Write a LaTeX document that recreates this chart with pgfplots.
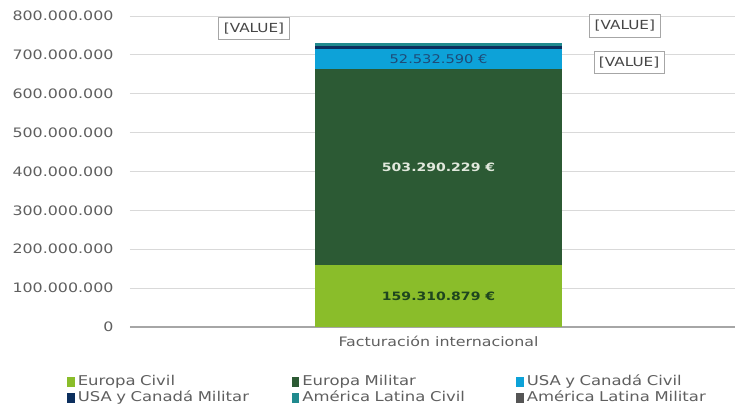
\documentclass[border=0pt]{standalone}
\usepackage{fontspec}
\setmainfont{DejaVu Sans}[FakeStretch=1.22]
\usepackage{pgfplots}
\pgfplotsset{compat=1.18}
\definecolor{ecivil}{HTML}{8ABD2A}
\definecolor{emil}{HTML}{2C5A34}
\definecolor{ucivil}{HTML}{0DA2D8}
\definecolor{umil}{HTML}{0C2F5E}
\definecolor{lcivil}{HTML}{208A8E}
\definecolor{lmil}{HTML}{555555}
\definecolor{txt}{HTML}{5F5F5F}
\definecolor{gridc}{HTML}{D9D9D9}
\definecolor{lab1}{HTML}{1E461E}
\definecolor{lab2}{HTML}{E1E8DC}
\definecolor{lab3}{HTML}{1E4B78}
\definecolor{boxt}{HTML}{464646}
\begin{document}
\begin{tikzpicture}
\begin{axis}[
  scale only axis, width=605pt, height=311pt,
  at={(0,0)}, anchor=south west,
  ybar stacked, bar width=0.408,
  xmin=-0.51, xmax=0.49, ymin=0, ymax=800000000,
  xtick={0}, xticklabels={Facturación internacional},
  ytick={0,100000000,...,800000000},
  scaled y ticks=false,
  /pgf/number format/assume math mode=true,
  yticklabel={\pgfmathprintnumber[fixed,1000 sep={.},precision=0]{\tick}},
  axis x line*=bottom, axis y line*=left,
  y axis line style={draw=none},
  x axis line style={draw=gray!70, line width=1.2pt, -},
  major tick length=0pt,
  ymajorgrids, grid style={gridc, line width=0.8pt},
  tick label style={font=\fontsize{13}{15}\selectfont, text=txt},
  yticklabel style={anchor=east, xshift=-13pt},
  xticklabel style={yshift=-6pt, font=\fontsize{13}{15}\selectfont},
  legend columns=3,
  legend style={at={(-0.109,-0.146)}, anchor=north west, draw=none, fill=none,
    font=\fontsize{13.5}{15}\selectfont, text=txt,
    nodes={text width=211pt, align=left, anchor=west, inner xsep=3pt, inner ysep=1pt, text height=10pt, text depth=3pt},
    row sep=1pt},
  legend cell align=left,
  legend image code/.code={\fill[#1] (0pt,-4.5pt) rectangle (7.5pt,5pt);},
  clip=false,
]
\addplot[fill=ecivil, draw=none] coordinates {(0,159310879)};
\addplot[fill=emil, draw=none] coordinates {(0,503290229)};
\addplot[fill=ucivil, draw=none] coordinates {(0,52532590)};
\addplot[fill=umil, draw=none] coordinates {(0,8000000)};
\addplot[fill=lcivil, draw=none] coordinates {(0,7500000)};
\addplot[fill=lmil, draw=none] coordinates {(0,500000)};
\legend{Europa Civil, Europa Militar, USA y Canadá Civil, USA y Canadá Militar, América Latina Civil, América Latina Militar}
\end{axis}
\begin{axis}[
  scale only axis, width=605pt, height=311pt,
  at={(0,0)}, anchor=south west,
  xmin=-0.51, xmax=0.49, ymin=0, ymax=800000000,
  hide axis, clip=false,
]
\addplot[draw=none, mark=none, nodes near coords, point meta=explicit symbolic,
  nodes near coords style={anchor=center, font=\bfseries\fontsize{11.5}{13}\selectfont, text=lab1}]
  coordinates {(0,79655440) [159.310.879 €]};
\addplot[draw=none, mark=none, nodes near coords, point meta=explicit symbolic,
  nodes near coords style={anchor=center, font=\bfseries\fontsize{11.5}{13}\selectfont, text=lab2}]
  coordinates {(0,410956000) [503.290.229 €]};
\addplot[draw=none, mark=none, nodes near coords, point meta=explicit symbolic,
  nodes near coords style={anchor=center, font=\fontsize{12}{13}\selectfont, text=lab3}]
  coordinates {(0,688867000) [52.532.590 €]};
\addplot[draw=none, mark=none, nodes near coords, point meta=explicit symbolic,
  nodes near coords style={anchor=center, draw=gray!70, line width=0.9pt, fill=white, text=boxt, font=\fontsize{12.5}{14}\selectfont, inner xsep=5pt, inner ysep=5.5pt}]
  coordinates {(-0.305,767000000) [{[VALUE]}] (0.308,774300000) [{[VALUE]}] (0.315,680400000) [{[VALUE]}]};
\end{axis}
\pgfresetboundingbox
\path (-130pt,-83pt) rectangle (609pt,327pt);
\end{tikzpicture}
\end{document}
